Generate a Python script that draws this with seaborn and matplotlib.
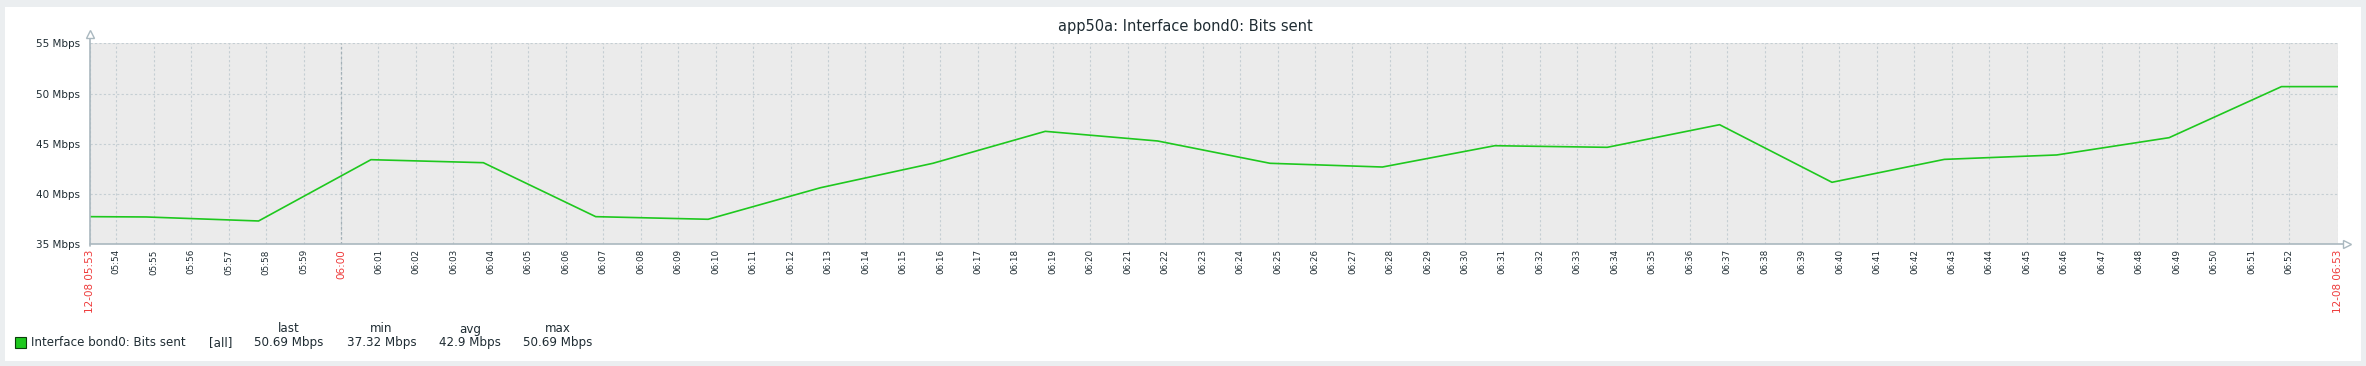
import matplotlib
matplotlib.use("Agg")

import pandas as pd
import matplotlib.pyplot as plt
import matplotlib.dates as mdates
from matplotlib.patches import Rectangle
from matplotlib.lines import Line2D
import seaborn as sns

# ---------- DATA ----------
DAY = "2023-12-08"
times = ["05:53:18", "05:54:48", "05:57:48", "06:00:48", "06:03:48", "06:06:48",
         "06:09:48", "06:12:48", "06:15:48", "06:18:48", "06:21:48", "06:24:48",
         "06:27:48", "06:30:48", "06:33:48", "06:36:48", "06:39:48", "06:42:48",
         "06:45:48", "06:48:48", "06:51:48", "06:53:18"]
bits_sent = [37.75, 37.72, 37.32, 43.42, 43.12, 37.75, 37.49, 40.63, 43.06, 46.24,
             45.28, 43.06, 42.69, 44.81, 44.65, 46.90, 41.17, 43.45, 43.89, 45.61,
             50.69, 50.69]
y_ticks = [35, 40, 45, 50, 55]
series_name = "Interface bond0: Bits sent"
stat_names = ["last", "min", "avg", "max"]
stat_values = ["50.69 Mbps", "37.32 Mbps", "42.9 Mbps", "50.69 Mbps"]
title = "app50a: Interface bond0: Bits sent"
# --------------------------

W, H = 2366, 366
OUTER = "#ebeef0"
PLOT_BG = "#ebebeb"
TEXT = "#1f2c33"
RED = "#ee3b3b"
GREEN = "#1ec81e"
GRID = "#c5ced3"
AXIS = "#aab8bf"

sns.set_style("white")
plt.rcParams["font.family"] = ["DejaVu Sans"]

df = pd.DataFrame({
    "time": pd.to_datetime([f"{DAY} {t}" for t in times]),
    "mbps": bits_sent,
})
start, end = df["time"].iloc[0], df["time"].iloc[-1]

fig = plt.figure(figsize=(W / 100, H / 100), dpi=100)
fig.patch.set_facecolor(OUTER)
fig.add_artist(Rectangle((5 / W, 1 - 361 / H), (2361 - 5) / W, (361 - 7) / H,
                         transform=fig.transFigure, facecolor="white",
                         edgecolor="none", zorder=-1))

ax = fig.add_axes([90 / W, 1 - 244.3 / H, (2337.7 - 90) / W, (244.3 - 43.3) / H])
ax.set_facecolor(PLOT_BG)

sns.lineplot(data=df, x="time", y="mbps", ax=ax, color=GREEN, linewidth=1.2,
             zorder=3)

ax.set_xlim(start, end)
ax.set_ylim(y_ticks[0], y_ticks[-1])

# minute ticks + range ends
minutes = list(pd.date_range(f"{DAY} 05:54", f"{DAY} 06:52", freq="1min"))
xticks = [start] + minutes + [end]
xlabels = [start.strftime("%m-%d %H:%M")] + [m.strftime("%H:%M") for m in minutes] \
    + [end.strftime("%m-%d %H:%M")]
ax.set_xticks(xticks)
ax.set_xticklabels(xlabels, rotation=90, va="top", ha="center")
for lab, t in zip(ax.get_xticklabels(), xticks):
    if t in (start, end) or (t.minute == 0 and t.second == 0):
        lab.set_color(RED)
        lab.set_fontsize(7.5)
    else:
        lab.set_color(TEXT)
        lab.set_fontsize(6.3)
ax.tick_params(axis="x", length=0, pad=3.5)

ax.set_yticks(y_ticks)
ax.set_yticklabels([f"{v} Mbps" for v in y_ticks], fontsize=7.5, color=TEXT)
ax.tick_params(axis="y", length=0, pad=7)

ax.grid(True, color=GRID, linestyle=(0, (2, 2)), linewidth=0.8)
ax.axvline(pd.Timestamp(f"{DAY} 06:00"), color="#a3b0b7", linestyle=(0, (2, 2)),
           linewidth=0.9, zorder=2)
ax.set_xlabel("")
ax.set_ylabel("")

for s in ["top", "right"]:
    ax.spines[s].set_visible(False)
for s in ["left", "bottom"]:
    ax.spines[s].set_visible(False)

# axes with arrow heads
ax_h = 244.3 - 43.3
ax_w = 2337.7 - 90
ax.add_line(Line2D([0, 0], [-2 / ax_h, 1 + 6 / ax_h], transform=ax.transAxes,
                   color=AXIS, linewidth=1.2, clip_on=False, zorder=4))
ax.add_line(Line2D([0, 1 + 6 / ax_w], [0, 0], transform=ax.transAxes,
                   color=AXIS, linewidth=1.2, clip_on=False, zorder=4))
ax.plot([0], [1 + 9 / ax_h], marker="^", markersize=6, markerfacecolor="white",
        markeredgecolor=AXIS, transform=ax.transAxes, clip_on=False, zorder=5)
ax.plot([1 + 9 / ax_w], [0], marker=">", markersize=6, markerfacecolor="white",
        markeredgecolor=AXIS, transform=ax.transAxes, clip_on=False, zorder=5)

# title
fig.text(1185.5 / W, 1 - 26.5 / H, title, ha="center", va="center",
         fontsize=10.5, color=TEXT)

# legend row
fig.add_artist(Rectangle((15 / W, 1 - 348 / H), 11 / W, 11 / H,
                         transform=fig.transFigure, facecolor=GREEN,
                         edgecolor="#0b3d0b", linewidth=0.8))
fig.text(31 / W, 1 - 342.5 / H, series_name, ha="left", va="center",
         fontsize=8.6, color=TEXT)
fig.text(209 / W, 1 - 342.5 / H, "[all]", ha="left", va="center",
         fontsize=8.6, color=TEXT)
stat_x = [289, 381.5, 470, 558]
for name, val, x in zip(stat_names, stat_values, stat_x):
    fig.text(x / W, 1 - 329 / H, name, ha="center", va="center",
             fontsize=8.6, color=TEXT)
    fig.text(x / W, 1 - 342.5 / H, val, ha="center", va="center",
             fontsize=8.6, color=TEXT)

fig.savefig("out.png", dpi=100, facecolor=fig.get_facecolor())
